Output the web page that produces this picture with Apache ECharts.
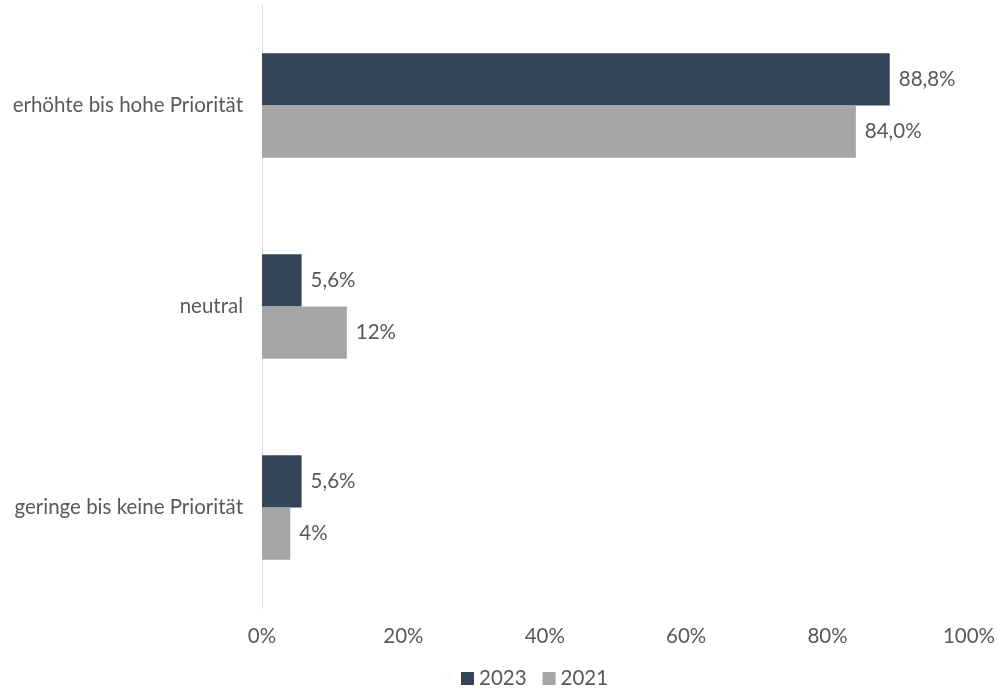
<!DOCTYPE html>
<html>
<head>
<meta charset="utf-8">
<script src="https://cdn.jsdelivr.net/npm/echarts@6/dist/echarts.min.js"></script>
<style>
  html, body { margin: 0; padding: 0; background: #fff; }
  #chart { width: 998px; height: 691px; }
</style>
</head>
<body>
<div id="chart"></div>
<script>
// Priority categories, top to bottom
const categories = ['erhöhte bis hohe Priorität', 'neutral', 'geringe bis keine Priorität'];
// Shares in percent
const values2023 = [88.8, 5.6, 5.6];
const values2021 = [84.0, 12, 4];
// Decimal places shown in each bar label
const decimals2023 = [1, 1, 1];
const decimals2021 = [1, 0, 0];
const xTicks = [0, 20, 40, 60, 80, 100];

const FONT = 'Lato, "Open Sans", sans-serif';
const TEXT = '#595959';
const SIZE = 20.5;

function fmt(v, d) {
  return v.toFixed(d).replace('.', ',') + '%';
}

const chart = echarts.init(document.getElementById('chart'));
chart.setOption({
  animation: false,
  textStyle: { fontFamily: FONT },
  grid: { left: 262, right: 28, top: 5, bottom: 83, containLabel: false },
  legend: {
    bottom: -3,
    left: 456,
    itemWidth: 13,
    itemHeight: 13,
    itemGap: 16,
    icon: 'rect',
    textStyle: { color: TEXT, fontSize: SIZE, fontFamily: FONT },
    data: ['2023', '2021']
  },
  xAxis: {
    type: 'value',
    min: xTicks[0],
    max: xTicks[xTicks.length - 1],
    interval: 20,
    axisLine: { show: false },
    axisTick: { show: false },
    splitLine: { show: false },
    axisLabel: {
      color: TEXT, fontSize: SIZE, margin: 18, fontFamily: FONT,
      formatter: v => v + '%'
    }
  },
  yAxis: {
    type: 'category',
    data: categories,
    inverse: true,
    axisLine: { show: true, lineStyle: { color: '#d9d9d9', width: 1 } },
    axisTick: { show: false },
    axisLabel: { color: TEXT, fontSize: SIZE, margin: 19, fontFamily: FONT }
  },
  series: [
    {
      name: '2023',
      type: 'bar',
      data: values2023,
      barGap: '0%',
      barCategoryGap: '48%',
      itemStyle: { color: '#334556' },
      label: {
        show: true, position: 'right', distance: 9,
        color: TEXT, fontSize: SIZE, fontFamily: FONT,
        formatter: p => fmt(p.value, decimals2023[p.dataIndex])
      }
    },
    {
      name: '2021',
      type: 'bar',
      data: values2021,
      barGap: '0%',
      barCategoryGap: '48%',
      itemStyle: { color: '#a6a6a6' },
      label: {
        show: true, position: 'right', distance: 9,
        color: TEXT, fontSize: SIZE, fontFamily: FONT,
        formatter: p => fmt(p.value, decimals2021[p.dataIndex])
      }
    }
  ]
});
</script>
</body>
</html>
